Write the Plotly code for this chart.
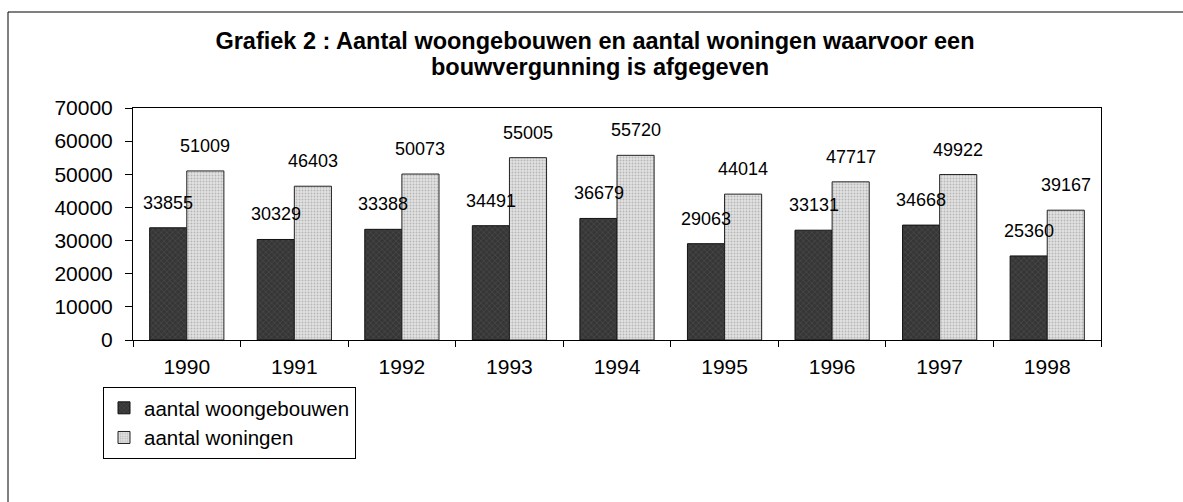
import plotly.graph_objects as go

years = ["1990", "1991", "1992", "1993", "1994", "1995", "1996", "1997", "1998"]
woongebouwen = [33855, 30329, 33388, 34491, 36679, 29063, 33131, 34668, 25360]
woningen = [51009, 46403, 50073, 55005, 55720, 44014, 47717, 49922, 39167]
y_ticks = [0, 10000, 20000, 30000, 40000, 50000, 60000, 70000]

FONT = "Arial, Liberation Sans, sans-serif"
TITLE_SIZE = 23.5

fig = go.Figure()
fig.add_trace(go.Bar(
    x=years, y=woongebouwen, name="aantal woongebouwen",
    marker=dict(color="#363636", line=dict(color="#111111", width=1),
                pattern=dict(shape="x", fgcolor="#6a6a6a", size=4, solidity=0.25)),
))
fig.add_trace(go.Bar(
    x=years, y=woningen, name="aantal woningen",
    marker=dict(color="#e2e2e2", line=dict(color="#222222", width=1),
                pattern=dict(shape=".", fgcolor="#8a8a8a", size=3, solidity=0.35)),
))

annotations = []
for i, v in enumerate(woongebouwen):
    annotations.append(dict(x=i, y=v, text=str(v), showarrow=False, xref="x", yref="y",
                            xanchor="center", yanchor="bottom", xshift=-18.5, yshift=13,
                            font=dict(family=FONT, size=18, color="black")))
for i, v in enumerate(woningen):
    annotations.append(dict(x=i, y=v, text=str(v), showarrow=False, xref="x", yref="y",
                            xanchor="center", yanchor="bottom", xshift=18.5, yshift=13,
                            font=dict(family=FONT, size=18, color="black")))
# second title line
annotations.append(dict(text="<b>bouwvergunning is afgegeven</b>", showarrow=False,
                        xref="paper", yref="paper", x=(600 - 133) / 968, y=(340 - 67) / 232,
                        xanchor="center", yanchor="middle",
                        font=dict(family=FONT, size=TITLE_SIZE, color="black")))

fig.update_layout(
    width=1183, height=502,
    margin=dict(l=133, r=82, t=108, b=162, autoexpand=False),
    paper_bgcolor="white", plot_bgcolor="white",
    barmode="group", bargap=0.31, bargroupgap=0,
    font=dict(family=FONT, color="black"),
    title=dict(text="<b>Grafiek 2 : Aantal woongebouwen en aantal woningen waarvoor een</b>",
               x=595 / 1183, xref="container", xanchor="center",
               y=1 - 41 / 502, yref="container", yanchor="middle",
               font=dict(family=FONT, size=TITLE_SIZE, color="black")),
    xaxis=dict(type="category", categoryorder="array", categoryarray=years,
               range=[-0.5, len(years) - 0.5], autorange=False,
               showline=True, linecolor="black", linewidth=1, mirror=True,
               ticks="outside", tickson="boundaries", ticklen=6, tickcolor="black",
               tickfont=dict(family=FONT, size=21), ticklabelstandoff=8, showgrid=False),
    yaxis=dict(range=[0, 70000], autorange=False, tickvals=y_ticks,
               ticktext=[str(t) for t in y_ticks],
               showline=True, linecolor="black", linewidth=1,
               mirror=True, ticks="outside", ticklen=7, tickcolor="black",
               tickfont=dict(family=FONT, size=21), ticklabelstandoff=8,
               showgrid=False, zeroline=False),
    showlegend=True,
    legend=dict(x=(103 - 133) / 968, y=(340 - 387) / 232, xanchor="left", yanchor="top",
                bordercolor="black", borderwidth=1, bgcolor="white",
                font=dict(family=FONT, size=20.5), traceorder="normal",
                itemwidth=30, tracegroupgap=0),
    annotations=annotations,
    shapes=[dict(type="rect", xref="paper", yref="paper",
                 x0=(8 - 133) / 968, x1=(1195 - 133) / 968,
                 y0=(340 - 515) / 232, y1=(340 - 12) / 232,
                 line=dict(color="black", width=1), fillcolor="rgba(0,0,0,0)", layer="below")],
)

fig.write_html("out.html", config={"displayModeBar": False},
               post_script="document.body.style.margin='0';document.body.style.padding='0';")
